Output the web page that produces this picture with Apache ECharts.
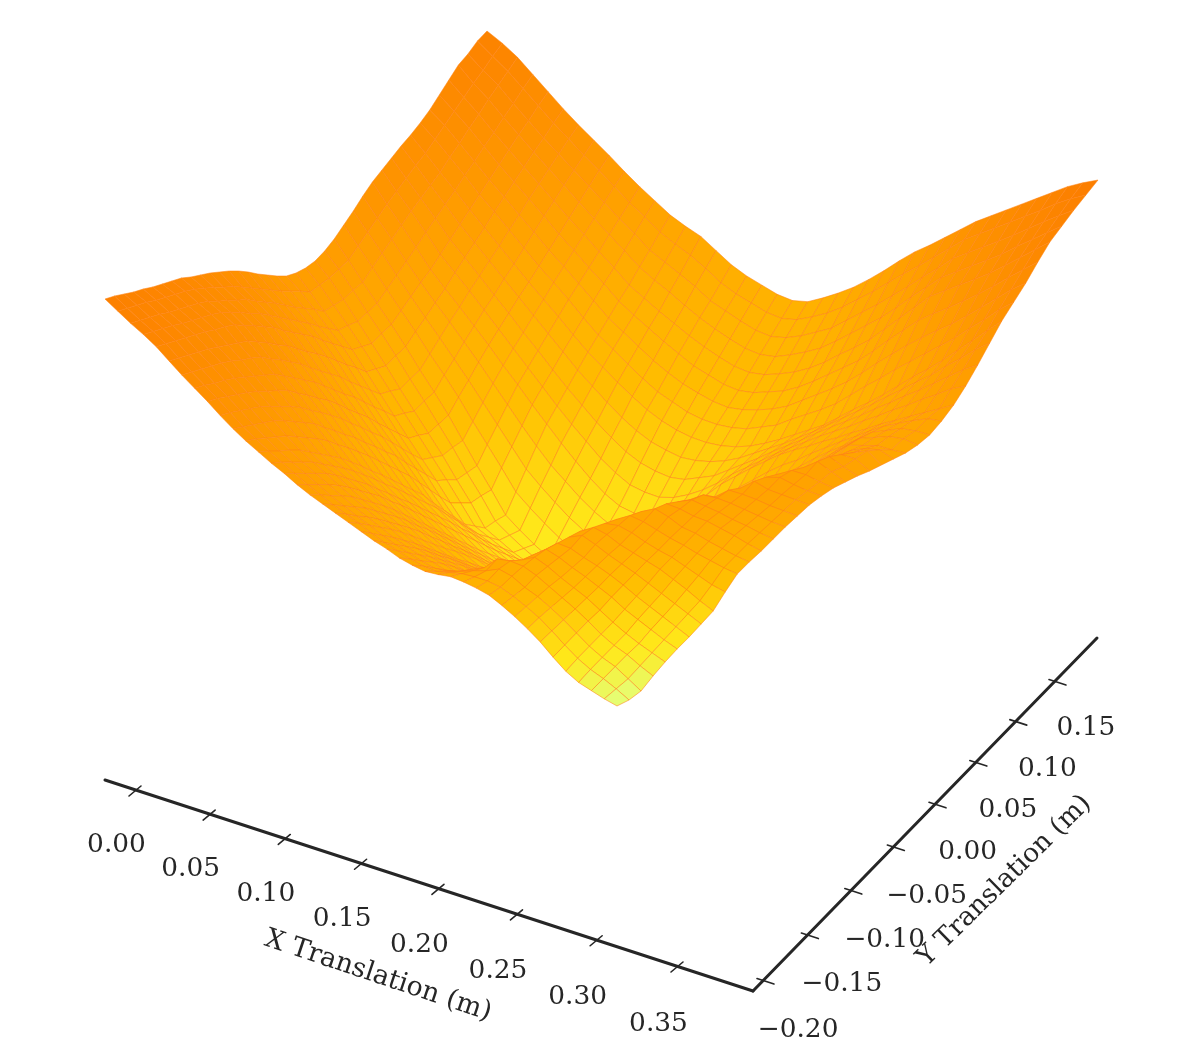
<!DOCTYPE html>
<html>
<head>
<meta charset="utf-8">
<style>
  html, body { margin: 0; background: #fff; }
  #chart { width: 1190px; height: 1062px; }
</style>
</head>
<body>
<div id="chart"></div>
<script src="https://cdn.jsdelivr.net/npm/echarts@6/dist/echarts.min.js"></script>
<script>
var xTicks = [0, 0.05, 0.1, 0.15, 0.2, 0.25, 0.3, 0.35]
var yTicks = [-0.2, -0.15, -0.1, -0.05, 0, 0.05, 0.1, 0.15]
var xLabels = ['0.00', '0.05', '0.10', '0.15', '0.20', '0.25', '0.30', '0.35']
var yLabels = ['−0.20', '−0.15', '−0.10', '−0.05', '0.00', '0.05', '0.10', '0.15']

// surface height, one row per y step, one column per x step
var heightRows = [
  [501,493,485,478,470,460,450,441,432,422,413,405,398,391,385,378,372,367,362,357,352,347,343,338,335,333,334,336,335,333,330,324,317,309,300,289,279,272,268,264,261],
  [497,489,481,474,466,456,446,437,428,418,408,400,392,385,378,371,365,359,354,349,343,338,334,330,327,326,329,332,333,333,331,326,320,313,304,294,285,278,273,267,260],
  [492,485,477,470,462,452,442,432,423,413,403,394,385,378,371,364,357,351,345,340,334,329,325,321,318,319,323,328,332,338,335,328,323,316,308,299,290,283,278,270,262],
  [487,481,473,466,458,448,438,428,418,408,398,388,379,371,364,357,350,343,337,331,325,320,316,313,309,312,318,324,337,339,338,333,326,319,312,304,295,288,283,276,270],
  [483,476,468,461,454,444,434,423,413,403,393,382,372,364,357,349,342,335,328,322,315,311,307,304,300,305,312,319,328,333,340,335,328,322,316,308,300,293,287,282,277],
  [478,472,464,457,450,439,429,417,407,396,386,374,363,355,348,340,332,325,318,312,305,301,297,294,290,296,304,312,320,331,341,337,331,326,320,314,306,300,294,288,283],
  [474,468,460,453,445,434,423,411,400,389,378,366,354,346,338,330,322,315,308,301,294,290,287,283,280,287,296,306,315,329,340,339,334,330,325,319,312,306,300,294,288],
  [470,464,456,449,441,429,418,405,394,382,370,358,345,337,328,320,312,305,298,290,283,280,277,273,270,278,288,300,310,320,339,345,340,334,329,324,318,312,306,300,294],
  [466,459,451,444,436,424,412,399,387,374,362,349,336,327,318,310,301,294,287,279,272,269,266,262,259,268,280,293,305,316,338,346,343,337,333,329,325,319,313,306,300],
  [460,453,444,437,428,416,403,390,377,364,351,338,325,316,306,298,289,282,275,268,261,258,255,251,248,257,268,280,291,304,322,343,345,342,337,333,330,325,320,315,312],
  [455,447,438,430,421,408,395,381,368,355,341,328,314,305,295,287,277,271,264,258,251,248,245,241,238,246,257,267,278,293,314,340,348,346,342,338,335,331,328,325,323],
  [450,440,431,422,413,399,386,372,358,345,330,317,302,293,283,275,265,259,252,247,240,237,234,230,227,235,245,254,264,281,304,326,345,352,348,342,340,336,333,330,328],
  [444,434,425,415,405,391,377,363,349,335,320,306,291,282,272,263,253,247,241,236,230,226,223,219,216,224,233,241,250,270,295,318,335,350,349,346,345,342,339,335,332],
  [438,426,416,406,395,381,366,352,338,323,308,294,279,270,260,251,241,235,229,224,218,214,211,207,204,211,220,226,235,254,278,305,328,345,351,349,347,344,342,339,337],
  [431,418,408,397,386,371,356,341,326,312,297,282,267,258,248,239,229,223,217,212,206,202,199,195,192,198,206,212,220,239,262,292,320,340,349,350,349,347,345,343,342],
  [423,410,400,388,377,362,346,330,315,300,285,270,255,246,236,227,217,211,205,200,194,190,187,183,180,185,192,198,205,223,245,270,295,316,340,351,351,350,348,347,346],
  [414,402,391,379,368,352,336,320,304,289,274,258,243,234,224,215,205,199,193,188,182,178,175,171,168,173,179,184,190,208,228,249,270,292,318,346,357,353,352,351,350],
  [406,394,382,370,357,341,324,308,291,276,260,244,228,220,211,203,194,188,182,177,171,167,164,160,157,163,170,175,182,200,220,241,262,284,306,331,354,358,355,353,352],
  [398,387,374,360,347,330,313,296,279,263,247,230,214,207,199,191,183,177,171,166,160,156,153,150,146,153,160,167,175,193,213,234,255,276,297,322,350,358,358,355,353],
  [391,380,366,351,337,320,302,285,267,250,234,216,200,193,186,179,172,166,160,155,149,145,142,139,135,143,151,159,167,185,205,226,247,268,288,311,332,354,364,358,352],
  [387,372,357,342,327,309,291,273,255,238,221,203,186,180,174,168,162,156,150,144,138,135,132,128,125,133,142,151,160,178,198,219,240,260,280,300,320,342,362,356,351],
  [385,372,356,340,323,305,287,269,251,233,215,196,177,170,163,157,150,145,141,137,133,134,135,135,135,145,155,166,176,194,212,232,251,270,288,306,324,343,357,357,349],
  [385,372,355,337,319,301,282,264,246,228,208,189,168,160,152,146,139,134,131,129,128,132,137,141,145,156,168,180,192,209,226,244,262,279,295,312,328,344,352,358,348],
  [388,374,357,339,322,304,285,267,248,229,208,189,168,158,149,141,134,130,128,127,128,133,140,147,155,168,181,195,209,225,241,257,274,289,303,318,333,343,349,352,347],
  [393,376,358,341,324,306,287,269,250,229,208,188,167,156,146,137,130,126,124,125,128,134,143,153,165,179,194,209,225,240,255,270,285,298,311,324,337,341,345,345,346],
  [400,383,366,348,331,314,296,279,261,241,222,203,183,171,160,150,142,137,135,136,139,146,156,166,179,192,206,220,235,249,262,276,289,301,313,325,337,342,347,349,347],
  [407,390,373,355,338,321,305,288,271,253,235,217,199,186,174,163,154,148,145,146,150,158,168,179,193,206,219,232,246,258,269,281,293,304,314,325,336,342,348,350,350],
  [415,397,380,362,345,329,314,298,282,265,248,231,215,200,188,176,166,158,156,156,161,170,180,192,206,219,232,244,256,267,276,287,297,307,316,326,335,342,349,355,357],
  [422,404,387,369,351,336,322,307,292,276,261,245,230,215,201,188,177,169,166,166,172,181,192,205,220,232,244,255,266,275,283,292,300,309,317,326,334,342,350,358,366],
  [427,410,394,377,359,345,331,316,301,286,271,256,241,227,214,201,191,183,180,179,183,190,199,210,223,234,245,256,266,276,286,295,304,314,323,333,342,352,361,371,378],
  [432,416,400,384,367,353,339,324,310,295,281,266,252,239,226,215,205,198,194,192,194,200,206,216,226,236,247,257,267,278,288,298,308,319,329,340,350,361,372,383,392],
  [437,422,406,391,375,361,347,333,319,305,291,277,263,251,239,228,219,212,208,205,206,209,214,221,230,239,248,258,268,279,290,301,312,324,335,347,358,371,383,396,407],
  [441,427,412,398,383,369,355,341,327,314,301,287,274,263,252,242,233,226,221,218,217,218,221,226,233,241,250,259,268,280,292,303,315,328,341,353,366,380,394,408,422],
  [446,434,420,406,391,378,364,350,336,324,311,297,284,274,263,253,244,238,232,229,228,229,232,238,244,254,263,272,282,295,308,320,333,345,357,369,381,395,408,422,434],
  [452,441,427,413,399,386,372,359,345,333,320,307,294,284,274,264,256,249,244,240,238,240,244,249,256,266,276,286,297,310,324,337,350,362,373,384,396,409,422,435,446],
  [460,448,435,421,407,394,381,368,354,342,329,317,304,294,285,276,268,260,255,250,248,250,255,260,268,278,289,300,311,325,340,354,368,379,389,400,411,423,436,448,460],
  [468,455,442,428,415,402,389,376,363,351,338,326,313,304,295,287,279,272,266,261,259,261,266,272,280,290,302,313,325,340,355,370,385,395,405,415,425,437,449,461,473],
  [476,462,450,436,423,410,397,385,372,360,348,336,324,315,307,298,290,283,277,272,270,272,278,285,293,304,316,328,340,354,369,383,397,407,417,427,437,449,460,471,482],
  [480,468,457,443,430,417,405,393,381,369,357,346,334,326,318,310,300,294,288,283,281,284,290,298,306,318,330,342,355,368,382,395,409,419,429,439,449,460,471,481,491],
  [486,475,464,451,438,425,413,401,390,378,366,356,345,337,330,321,311,304,299,294,292,295,302,310,320,332,344,357,370,382,395,408,421,431,441,451,461,471,482,491,499],
  [489,481,471,458,445,432,420,409,398,386,375,365,355,348,342,332,322,315,310,305,303,306,314,323,333,345,358,372,385,396,408,420,432,442,452,462,472,482,492,500,507]
]

// colormap levels for the sheet behind the ridge and the sheet in front of it
var backLevels = [[100, 0.15], [167, 0.28], [249, 0.5], [303, 0.6], [387, 0.78], [501, 1]]
var frontLevels = [[261, 0], [279, 0.2], [300, 0.35], [320, 0.5], [336, 0.62], [352, 0.72], [412, 0.85], [501, 1]]
var wistia = ['#e4ff7a', '#ffe81a', '#ffbd00', '#ffa000', '#fc7f00']

function heightLevel(h, levels) {
  if (h <= levels[0][0]) return levels[0][1]
  for (var k = 1; k < levels.length; k++) {
    if (h <= levels[k][0]) {
      var t = (h - levels[k - 1][0]) / (levels[k][0] - levels[k - 1][0])
      return levels[k - 1][1] + t * (levels[k][1] - levels[k - 1][1])
    }
  }
  return 1
}

function project(u, v, h) {
  return [105 + 512 * u + 382 * v + 99 * u * v, 800 + 167 * u - 280 * v - h]
}

// ticks get closer together towards the far end of each axis
function xFraction(x) {
  var t = x / 0.35
  return t / (1 + 0.052 * (1 - t))
}
function yFraction(y) {
  var t = (y + 0.2) / 0.35
  return t / (1 - 0.07 * (1 - t))
}

var rows = heightRows.length
var cols = heightRows[0].length
var cells = []
for (var j = 0; j < rows - 1; j++) {
  for (var i = 0; i < cols - 1; i++) {
    cells.push([i, j])
  }
}
// far cells first so the ridge covers what is behind it
cells.sort(function(a, b) {
  return (a[0] - a[1]) - (b[0] - b[1])
})

function surfaceItem(params, api) {
  var i = api.value(0)
  var j = api.value(1)
  var corners = [[i, j], [i + 1, j], [i + 1, j + 1], [i, j + 1]]
  var sum = 0
  var points = corners.map(function(c) {
    var h = heightRows[c[1]][c[0]]
    sum += h
    return api.coord(project(c[0] / (cols - 1), c[1] / (rows - 1), h))
  })
  var levels = i >= 27 + 0.53 * j ? frontLevels : backLevels
  return {
    type: 'polygon',
    shape: { points: points },
    style: {
      fill: echarts.color.lerp(heightLevel(sum / 4, levels), wistia),
      stroke: 'rgba(255,130,20,0.6)',
      lineWidth: 0.9
    }
  }
}

function line(api, a, b, width) {
  var p = api.coord(a)
  var q = api.coord(b)
  return {
    type: 'line',
    shape: { x1: p[0], y1: p[1], x2: q[0], y2: q[1] },
    style: { stroke: '#262626', lineWidth: width, lineCap: 'round' }
  }
}

function label(api, at, text, rotation, size) {
  var p = api.coord(at)
  return {
    type: 'text',
    x: p[0],
    y: p[1],
    rotation: rotation || 0,
    style: {
      text: text,
      font: (size || 26.4) + 'px "DejaVu Serif"',
      fill: '#262626',
      align: 'center',
      verticalAlign: 'middle'
    }
  }
}

function xTickItem(params, api) {
  var f = xFraction(api.value(0))
  var p = [135 + 542 * f, 791 + 176 * f]
  return {
    type: 'group',
    children: [
      line(api, [p[0] - 6, p[1] + 5], [p[0] + 6, p[1] - 5], 1.6),
      label(api, [p[0] - 18.5, p[1] + 54 + 3 * f], xLabels[params.dataIndex])
    ]
  }
}

function yTickItem(params, api) {
  var f = yFraction(api.value(0))
  var p = [765 + 292 * f, 981 - 299 * f]
  return {
    type: 'group',
    children: [
      line(api, [p[0] - 8, p[1] - 2.5], [p[0] + 9, p[1] + 3], 1.6),
      label(api, [p[0] + 33 - 4 * f, p[1] + 49.5 - 3 * f], yLabels[params.dataIndex])
    ]
  }
}

function frameItem(params, api) {
  return {
    type: 'group',
    children: [
      line(api, [105, 780], [753, 991], 3),
      line(api, [753, 991], [1097, 638], 3),
      label(api, [378, 976], 'X Translation (m)', -18.5 * Math.PI / 180, 26.8),
      label(api, [1004.5, 881], 'Y Translation (m)', 44.5 * Math.PI / 180, 26.4)
    ]
  }
}

var chart = echarts.init(document.getElementById('chart'))
chart.setOption({
  animation: false,
  backgroundColor: '#fff',
  grid: { left: 0, right: 0, top: 0, bottom: 0 },
  xAxis: { type: 'value', min: 0, max: 1190, show: false },
  yAxis: { type: 'value', min: 0, max: 1062, inverse: true, show: false },
  series: [
    { type: 'custom', coordinateSystem: 'cartesian2d', renderItem: surfaceItem, data: cells, clip: false, progressive: 0 },
    { type: 'custom', coordinateSystem: 'cartesian2d', renderItem: frameItem, data: [[0]], clip: false },
    { type: 'custom', coordinateSystem: 'cartesian2d', renderItem: xTickItem, data: xTicks.map(function(x) { return [x] }), clip: false },
    { type: 'custom', coordinateSystem: 'cartesian2d', renderItem: yTickItem, data: yTicks.map(function(y) { return [y] }), clip: false }
  ]
})
</script>
</body>
</html>
